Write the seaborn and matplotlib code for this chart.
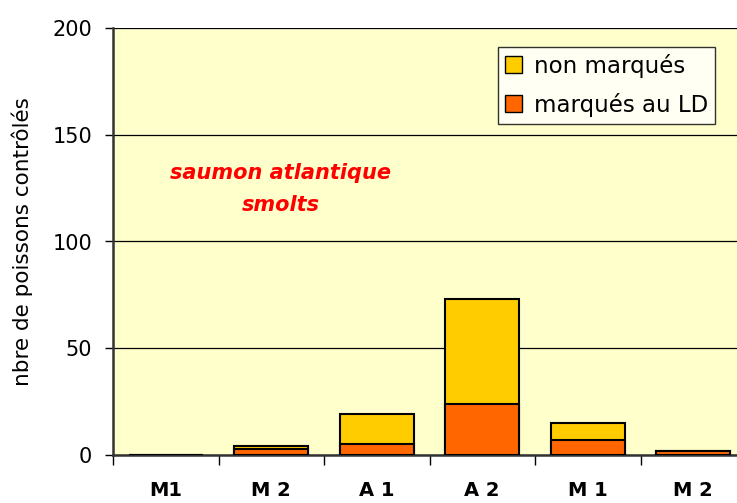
import matplotlib
matplotlib.use("Agg")
import matplotlib.pyplot as plt
import matplotlib.patches as mpatches
import numpy as np
import pandas as pd
import seaborn as sns

# data
categories = ["M1", "M 2", "A 1", "A 2", "M 1", "M 2"]
marques_ld = [0, 3, 5, 24, 7, 2]
non_marques = [0, 1, 14, 49, 8, 0]

col_non = "#FFCC00"
col_marq = "#FF6600"

df = pd.DataFrame({"cat": range(len(categories)),
                   "marq": marques_ld,
                   "non": non_marques})
df["total"] = df["marq"] + df["non"]

sns.set_style("white")
plt.rcParams["font.family"] = ["DejaVu Sans"]
plt.rcParams["text.color"] = "black"
plt.rcParams["axes.labelcolor"] = "black"
plt.rcParams["xtick.color"] = "black"
plt.rcParams["ytick.color"] = "black"

fig = plt.figure(figsize=(7.37, 5.03), dpi=100)
ax = fig.add_axes([113 / 737, 1 - 455 / 503, 633 / 737, 427 / 503])
ax.set_facecolor("#FFFFCC")

# stacked: total (yellow) behind, marked (orange) in front
sns.barplot(data=df, x="cat", y="total", color=col_non, saturation=1,
            width=0.7, edgecolor="black", linewidth=1.5, ax=ax, zorder=3)
sns.barplot(data=df, x="cat", y="marq", color=col_marq, saturation=1,
            width=0.7, edgecolor="black", linewidth=1.5, ax=ax, zorder=3)

ax.set_ylim(0, 200)
ax.set_xlim(-0.5, len(categories) - 0.5)
ax.set_yticks([0, 50, 100, 150, 200])
ax.yaxis.grid(True, color="black", linewidth=0.9, zorder=0)
ax.set_axisbelow(True)

ax.set_xticks(range(len(categories)))
ax.set_xticklabels(categories, fontsize=14, fontweight="bold")
ax.set_xticks(np.arange(-0.5, len(categories), 1), minor=True)
ax.tick_params(axis="x", which="major", length=0, pad=19)
ax.tick_params(axis="x", which="minor", length=7, width=1, direction="out",
               color="black", bottom=True)
ax.tick_params(axis="y", length=6, width=1, direction="out", color="black",
               left=True, labelsize=15, pad=9)

ax.set_xlabel("")
ax.set_ylabel("nbre de poissons contrôlés", fontsize=15.5, labelpad=14)

for side in ["top", "right"]:
    ax.spines[side].set_visible(False)
ax.spines["left"].set_color("#333333")
ax.spines["left"].set_linewidth(1.8)
ax.spines["bottom"].set_color("#333333")
ax.spines["bottom"].set_linewidth(1.8)

# title inside the plot, placed in figure pixels
ax.text(281, 503 - 189, "saumon atlantique\nsmolts", transform=None, color="red",
        fontsize=15, fontweight="bold", fontstyle="italic",
        ha="center", va="center", linespacing=1.8)

handles = [mpatches.Patch(facecolor=col_non, edgecolor="black", label="non marqués"),
           mpatches.Patch(facecolor=col_marq, edgecolor="black", label="marqués au LD")]
leg = fig.legend(handles=handles, loc="upper right",
                 bbox_to_anchor=(715 / 737, 1 - 47 / 503), fontsize=16.5,
                 frameon=True, fancybox=False, edgecolor="black",
                 handlelength=0.75, handleheight=0.75, handletextpad=0.5,
                 borderpad=0.3, labelspacing=0.65, borderaxespad=0)
leg.get_frame().set_linewidth(1.0)
leg.get_frame().set_facecolor("white")

fig.savefig("out.png", dpi=100)
